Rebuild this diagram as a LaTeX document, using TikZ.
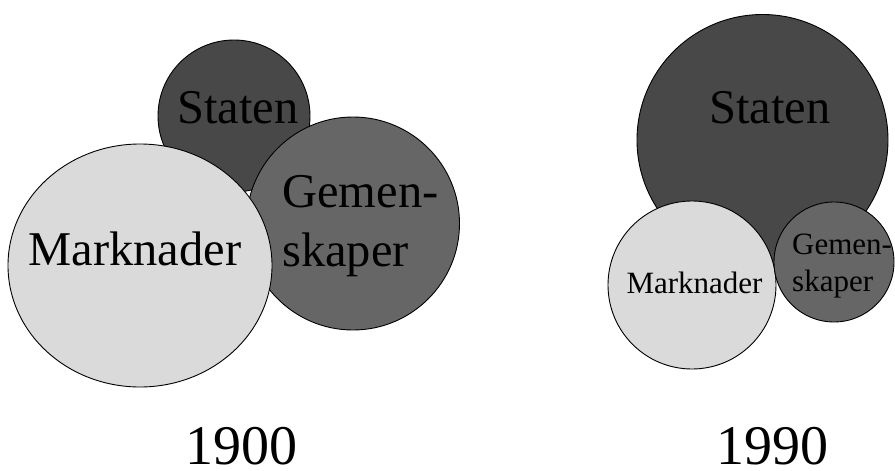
\documentclass[tikz,border=0pt]{standalone}
\usepackage{fontspec}
\setmainfont{Liberation Serif}
\definecolor{statgray}{HTML}{484848}
\definecolor{gemgray}{HTML}{666666}
\definecolor{markgray}{HTML}{DADADA}
\newcommand{\bigtxt}{\fontsize{48.5}{59}\selectfont}
\newcommand{\smalltxt}{\fontsize{31}{37}\selectfont}
\newcommand{\yeartxt}{\fontsize{56}{60}\selectfont}
\begin{document}
\begin{tikzpicture}[x=1pt,y=-1pt,
  bubble/.style={draw=black,line width=0.9pt},
  word/.style={inner sep=0pt,anchor=base},
  twoline/.style={inner sep=0pt,anchor=north west,align=left}]
\useasboundingbox (0,0) rectangle (895,471);
% 1900
\filldraw[bubble,fill=statgray] (234,116) circle (76pt);
\filldraw[bubble,fill=gemgray] (353,223.5) circle (106.5pt);
\filldraw[bubble,fill=markgray] (140,265.5) ellipse [x radius=132pt,y radius=121.5pt];
\node[word,font=\bigtxt] (staten1) at (238,123) {Staten};
\node[word,font=\bigtxt] (mark1) at (135,265) {Marknader};
\node[twoline,font=\bigtxt] (gem1) at (282,175) {Gemen-\\skaper};
\node[word,font=\yeartxt] (year1) at (241,464) {1900};
% 1990
\filldraw[bubble,fill=statgray] (762.5,140) circle (125.5pt);
\filldraw[bubble,fill=markgray] (692,285) circle (84pt);
\filldraw[bubble,fill=gemgray] (834,262) circle (60pt);
\node[word,font=\bigtxt] (staten2) at (770,123) {Staten};
\node[word,font=\smalltxt] (mark2) at (694.5,293) {Marknader};
\node[twoline,font=\smalltxt] (gem2) at (792,234) {Gemen-\\skaper};
\node[word,font=\yeartxt] (year2) at (772,464) {1990};
\end{tikzpicture}
\end{document}
